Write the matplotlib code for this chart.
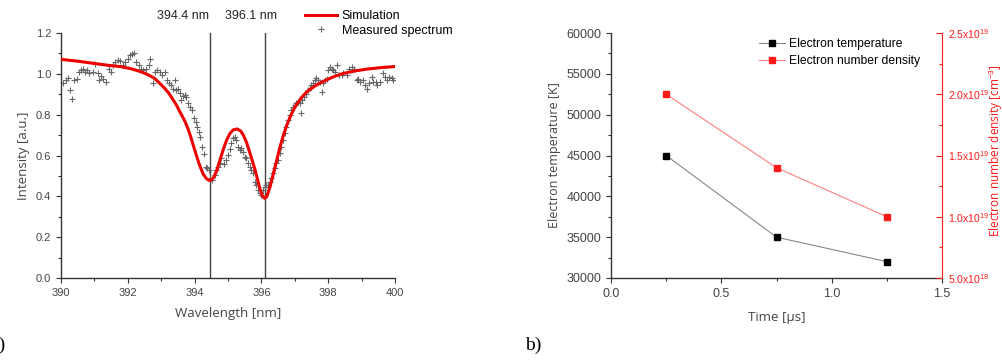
import numpy as np
import matplotlib.pyplot as plt
from matplotlib.ticker import MultipleLocator, FixedLocator

plt.rcParams['font.family'] = ['Liberation Sans', 'DejaVu Sans']
plt.rcParams['mathtext.fontset'] = 'custom'
plt.rcParams['mathtext.rm'] = 'Liberation Sans'

# --- panel a: spectrum ---
meas_wl = [390.05, 390.15, 390.20, 390.27, 390.33, 390.40, 390.47, 390.53, 390.60, 390.65,
           390.73, 390.77, 390.85, 390.95, 391.03, 391.10, 391.15, 391.20, 391.27, 391.35,
           391.43, 391.50, 391.55, 391.63, 391.70, 391.77, 391.85, 391.93, 392.00, 392.07,
           392.13, 392.20, 392.25, 392.33, 392.40, 392.47, 392.55, 392.63, 392.67, 392.75,
           392.81, 392.87, 392.95, 393.03, 393.10, 393.17, 393.23, 393.30, 393.35, 393.40,
           393.45, 393.50, 393.55, 393.60, 393.65, 393.70, 393.75, 393.80, 393.87, 393.93,
           393.97, 394.03, 394.07, 394.13, 394.17, 394.23, 394.27, 394.33, 394.37, 394.43,
           394.47, 394.53, 394.60, 394.65, 394.70, 394.75, 394.80, 394.87, 394.93, 395.00,
           395.05, 395.10, 395.15, 395.20, 395.25, 395.30, 395.35, 395.40, 395.45, 395.50,
           395.55, 395.60, 395.65, 395.70, 395.75, 395.80, 395.85, 395.90, 395.95, 396.00,
           396.05, 396.10, 396.15, 396.20, 396.25, 396.30, 396.35, 396.40, 396.45, 396.50,
           396.55, 396.60, 396.65, 396.70, 396.75, 396.80, 396.85, 396.90, 396.95, 397.00,
           397.05, 397.10, 397.15, 397.18, 397.23, 397.27, 397.33, 397.40, 397.45, 397.50,
           397.55, 397.60, 397.65, 397.70, 397.75, 397.80, 397.85, 397.90, 397.95, 398.00,
           398.05, 398.10, 398.15, 398.20, 398.27, 398.33, 398.40, 398.45, 398.55, 398.63,
           398.70, 398.77, 398.85, 398.90, 398.95, 399.03, 399.10, 399.15, 399.23, 399.30,
           399.35, 399.43, 399.47, 399.55, 399.63, 399.70, 399.75, 399.83, 399.90, 399.95]
meas_int = [0.953, 0.969, 0.982, 0.923, 0.879, 0.969, 0.977, 1.010, 1.018, 1.026,
            1.010, 1.018, 1.005, 1.010, 1.050, 1.005, 0.969, 0.989, 0.977, 0.961,
            1.026, 1.010, 1.042, 1.059, 1.067, 1.063, 1.042, 1.059, 1.075, 1.091,
            1.099, 1.103, 1.059, 1.042, 1.026, 1.018, 1.026, 1.042, 1.075, 0.953,
            1.010, 1.018, 1.010, 0.993, 1.010, 0.969, 0.953, 0.945, 0.928, 0.969,
            0.920, 0.928, 0.904, 0.871, 0.891, 0.896, 0.888, 0.855, 0.839, 0.822,
            0.782, 0.765, 0.741, 0.717, 0.692, 0.643, 0.607, 0.546, 0.537, 0.529,
            0.489, 0.480, 0.505, 0.529, 0.546, 0.562, 0.586, 0.559, 0.578, 0.603,
            0.630, 0.660, 0.684, 0.692, 0.676, 0.643, 0.627, 0.635, 0.619, 0.594,
            0.586, 0.565, 0.546, 0.529, 0.513, 0.472, 0.456, 0.432, 0.415, 0.407,
            0.432, 0.448, 0.456, 0.456, 0.472, 0.489, 0.513, 0.537, 0.562, 0.578,
            0.611, 0.643, 0.676, 0.708, 0.741, 0.774, 0.798, 0.822, 0.839, 0.847,
            0.855, 0.863, 0.855, 0.806, 0.871, 0.888, 0.901, 0.920, 0.933, 0.945,
            0.953, 0.969, 0.982, 0.969, 0.961, 0.912, 0.953, 0.972, 0.977, 1.018,
            1.034, 1.026, 1.018, 1.010, 1.042, 0.993, 0.993, 1.005, 0.993, 1.026,
            1.034, 1.026, 0.969, 0.977, 0.961, 0.969, 0.945, 0.928, 0.953, 0.985,
            0.961, 0.961, 0.945, 0.961, 1.005, 0.985, 0.969, 0.985, 0.982, 0.972]

sim_wl = [390.0, 390.5, 391.0, 391.4, 391.8, 392.1, 392.4, 392.6, 392.8, 392.96,
          393.1, 393.23, 393.36, 393.46, 393.56, 393.64, 393.71, 393.8, 393.88, 393.96,
          394.06, 394.16, 394.26, 394.36, 394.42, 394.47, 394.52, 394.58, 394.66, 394.76,
          394.86, 394.96, 395.06, 395.16, 395.28, 395.38, 395.46, 395.56, 395.68, 395.81,
          395.96, 396.04, 396.1, 396.16, 396.26, 396.41, 396.56, 396.66, 396.76, 396.88,
          397.01, 397.18, 397.36, 397.6, 397.85, 398.15, 398.45, 398.8, 399.15, 399.55,
          400.0]
sim_int = [1.071, 1.062, 1.051, 1.042, 1.035, 1.025, 1.010, 0.996, 0.978, 0.953,
           0.930, 0.905, 0.872, 0.846, 0.814, 0.790, 0.768, 0.732, 0.694, 0.650,
           0.598, 0.548, 0.508, 0.486, 0.479, 0.478, 0.482, 0.495, 0.525, 0.578,
           0.630, 0.676, 0.708, 0.726, 0.730, 0.720, 0.700, 0.662, 0.600, 0.530,
           0.435, 0.400, 0.390, 0.398, 0.447, 0.545, 0.643, 0.700, 0.748, 0.796,
           0.839, 0.880, 0.912, 0.940, 0.963, 0.985, 1.002, 1.014, 1.023, 1.030,
           1.036]

line_pos = [394.45, 396.1]
line_labels = ['394.4 nm', '396.1 nm']

# --- panel b: plasma parameters ---
time = [0.25, 0.75, 1.25]
temp = [45000, 35000, 32000]
density = [2.0e19, 1.4e19, 1.0e19]
dens_ticks = [5.0e18, 1.0e19, 1.5e19, 2.0e19, 2.5e19]
dens_labels = ['5.0x10$^{18}$', '1.0x10$^{19}$', '1.5x10$^{19}$', '2.0x10$^{19}$', '2.5x10$^{19}$']

axis_col = '#333333'
red = '#ff1a1a'
lab_font = ['Open Sans', 'DejaVu Sans']

fig = plt.figure(figsize=(10.03, 3.64), dpi=100)
ax1 = fig.add_axes([0.0608, 0.2363, 0.3330, 0.6730])
ax2 = fig.add_axes([0.6092, 0.2363, 0.3300, 0.6730])


def style(ax, size):
    for s in ['left', 'bottom']:
        ax.spines[s].set_color(axis_col)
        ax.spines[s].set_linewidth(1.0)
    ax.tick_params(which='major', direction='out', length=3.5, width=0.8,
                   colors=axis_col, labelsize=size, labelcolor='#444444')
    ax.tick_params(which='minor', direction='out', length=2, width=0.8, colors=axis_col)


ax1.plot(meas_wl, meas_int, ls='none', marker='+', ms=5, mew=0.8, color='#666666',
         label='Measured spectrum', zorder=2)
ax1.plot(sim_wl, sim_int, color='#ee0000', lw=2.2, label='Simulation', zorder=3)
for p in line_pos:
    ax1.axvline(p, color='#444444', lw=1.0, zorder=1)
ax1.text(393.64, 1.283, line_labels[0], ha='center', va='center', fontsize=9, color='#222222')
ax1.text(395.70, 1.283, line_labels[1], ha='center', va='center', fontsize=9, color='#222222')

ax1.set_xlim(390, 400)
ax1.set_ylim(0, 1.2)
ax1.xaxis.set_major_locator(MultipleLocator(2))
ax1.xaxis.set_minor_locator(MultipleLocator(1))
ax1.yaxis.set_major_locator(MultipleLocator(0.2))
ax1.yaxis.set_minor_locator(MultipleLocator(0.1))
ax1.spines['top'].set_visible(False)
ax1.spines['right'].set_visible(False)
style(ax1, 8)
ax1.set_xlabel('Wavelength [nm]', fontsize=9.5, color='#444444', family=lab_font, labelpad=7)
ax1.set_ylabel('Intensity [a.u.]', fontsize=9.5, color='#444444', family=lab_font)
h, l = ax1.get_legend_handles_labels()
ax1.legend(h[::-1], l[::-1], loc='upper left', bbox_to_anchor=(0.715, 1.113), frameon=False,
           fontsize=9, handlelength=2.6, handletextpad=0.35, labelspacing=0.2,
           borderaxespad=0)

ax2.plot(time, temp, color='#888888', lw=0.8, marker='s', ms=4, mfc='black', mec='black',
         label='Electron temperature')
ax2.set_xlim(0, 1.5)
ax2.set_ylim(30000, 60000)
ax2.xaxis.set_major_locator(MultipleLocator(0.5))
ax2.xaxis.set_minor_locator(MultipleLocator(0.25))
ax2.yaxis.set_major_locator(MultipleLocator(5000))
ax2.yaxis.set_minor_locator(MultipleLocator(2500))
ax2.spines['top'].set_visible(False)
ax2.spines['right'].set_visible(False)
style(ax2, 9)
ax2.set_xlabel('Time [μs]', fontsize=9.5, color='#444444', family=lab_font, labelpad=8)
ax2.set_ylabel('Electron temperature [K]', fontsize=9, color='#444444', family=lab_font)

ax3 = ax2.twinx()
ax3.plot(time, density, color='#ff8080', lw=0.8, marker='s', ms=4, mfc=red, mec=red,
         label='Electron number density')
ax3.set_ylim(5.0e18, 2.5e19)
ax3.yaxis.set_major_locator(FixedLocator(dens_ticks))
ax3.set_yticklabels(dens_labels)
ax3.yaxis.set_minor_locator(MultipleLocator(2.5e18))
for s in ['top', 'left', 'bottom']:
    ax3.spines[s].set_visible(False)
ax3.spines['right'].set_color(red)
ax3.tick_params(which='major', direction='in', length=4, width=0.8, colors=red,
                labelsize=7.5, pad=4)
ax3.tick_params(which='minor', direction='in', length=2.5, width=0.8, colors=red)
ax3.set_ylabel('Electron number density [cm$^{-3}$]', fontsize=8.5, color=red, family=lab_font)
ax3.yaxis.set_label_coords(1.134, 0.52)

hs = ax2.get_legend_handles_labels()[0] + ax3.get_legend_handles_labels()[0]
ls = ax2.get_legend_handles_labels()[1] + ax3.get_legend_handles_labels()[1]
ax2.legend(hs, ls, loc='upper left', bbox_to_anchor=(0.432, 0.998), frameon=False,
           fontsize=8.7, handlelength=2.2, handletextpad=0.3, labelspacing=0.4,
           borderaxespad=0)

fig.text(0.006, 0.05, 'a)', ha='right', va='center', fontsize=14, family='Liberation Serif')
fig.text(0.523, 0.05, 'b)', ha='left', va='center', fontsize=14, family='Liberation Serif')

fig.savefig('out.png', dpi=100)
